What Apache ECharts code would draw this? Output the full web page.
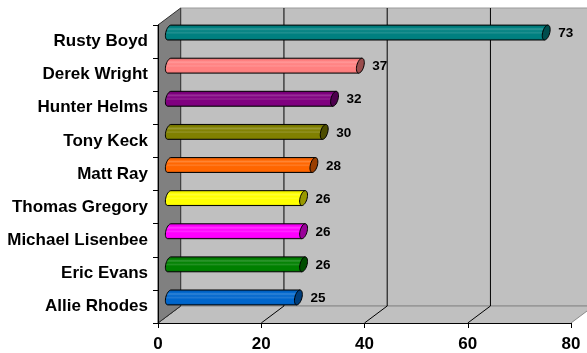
<!DOCTYPE html>
<html>
<head>
<meta charset="utf-8">
<script src="https://cdn.jsdelivr.net/npm/echarts@6/dist/echarts.min.js"></script>
<style>
  html, body { margin: 0; padding: 0; background: #ffffff; }
  #chart { width: 587px; height: 353px; }
</style>
</head>
<body>
<div id="chart"></div>
<script>
// Player totals, top to bottom
const categories = ['Rusty Boyd', 'Derek Wright', 'Hunter Helms', 'Tony Keck', 'Matt Ray',
  'Thomas Gregory', 'Michael Lisenbee', 'Eric Evans', 'Allie Rhodes'];
const values = [73, 37, 32, 30, 28, 26, 26, 26, 25];
const xTicks = [0, 20, 40, 60, 80];

// One colour per bar
const barColors = ['#008080', '#ff8080', '#800080', '#808000', '#ff6600',
  '#ffff00', '#ff00ff', '#008000', '#0066cc'];

const FONT = 'Arial, "Liberation Sans", sans-serif';
// Depth of the 3-D box (pixels): back wall is shifted right and up
const DX = 22.7, DY = -17;
const SKEW = 0.22;

function hexToRgb(h) {
  const n = parseInt(h.slice(1), 16);
  return [(n >> 16) & 255, (n >> 8) & 255, n & 255];
}
function toHex(c) {
  return '#' + c.map(v => Math.max(0, Math.min(255, Math.round(v))).toString(16).padStart(2, '0')).join('');
}
function shade(h, f) { return toHex(hexToRgb(h).map(v => v * f)); }
function tint(h, t) { return toHex(hexToRgb(h).map(v => v + (255 - v) * t)); }

// Wall, side wall and floor of the 3-D box, drawn from the grid and x scale
function renderBox(params, api) {
  const cs = params.coordSys;
  const gx = cs.x, gy = cs.y, gw = cs.width, gh = cs.height;
  const bottom = gy + gh;
  const children = [];
  // back wall
  children.push({
    type: 'rect',
    shape: { x: gx + DX, y: gy + DY, width: gw + 40, height: gh },
    style: { fill: '#c0c0c0', stroke: '#9a9a9a', lineWidth: 1 }
  });
  // floor
  children.push({
    type: 'polygon',
    shape: { points: [[gx, bottom], [gx + DX, bottom + DY], [gx + gw + DX, bottom + DY], [gx + gw, bottom]] },
    style: { fill: '#c0c0c0', stroke: null }
  });
  children.push({
    type: 'line',
    shape: { x1: gx + DX, y1: bottom + DY, x2: gx + gw + DX + 20, y2: bottom + DY },
    style: { stroke: '#858585', lineWidth: 1.2 }
  });
  // gridlines on the back wall and floor
  xTicks.forEach(function (v) {
    const x = api.coord([v, 0])[0];
    if (v !== xTicks[0] && v !== xTicks[xTicks.length - 1]) {
      children.push({
        type: 'line',
        shape: { x1: x + DX, y1: gy + DY, x2: x + DX, y2: bottom + DY },
        style: { stroke: '#000000', lineWidth: 1 }
      });
    }
    children.push({
      type: 'line',
      shape: { x1: x, y1: bottom, x2: x + DX, y2: bottom + DY },
      style: { stroke: v === xTicks[xTicks.length - 1] ? '#8a8a8a' : '#000000', lineWidth: 1 }
    });
  });
  // side wall
  children.push({
    type: 'polygon',
    shape: { points: [[gx, gy], [gx + DX, gy + DY], [gx + DX, bottom + DY], [gx, bottom]] },
    style: { fill: '#808080', stroke: '#303030', lineWidth: 1 }
  });
  return { type: 'group', children: children };
}

// Affine skew so the cylinder ends lean slightly
function sk(x, y, cy) { return [x - SKEW * (y - cy), y]; }
function ellipsePath(cx, cy, rx, ry) {
  const k = 0.5523;
  const pts = [
    [cx + rx, cy],
    [cx + rx, cy + ry * k], [cx + rx * k, cy + ry], [cx, cy + ry],
    [cx - rx * k, cy + ry], [cx - rx, cy + ry * k], [cx - rx, cy],
    [cx - rx, cy - ry * k], [cx - rx * k, cy - ry], [cx, cy - ry],
    [cx + rx * k, cy - ry], [cx + rx, cy - ry * k], [cx + rx, cy]
  ].map(p => sk(p[0], p[1], cy));
  let d = 'M' + pts[0].join(',');
  for (let i = 1; i < pts.length; i += 3) {
    d += 'C' + pts[i].join(',') + ' ' + pts[i + 1].join(',') + ' ' + pts[i + 2].join(',');
  }
  return d + 'Z';
}

function renderBar(params, api) {
  const v = api.value(0);
  const c = api.value(1);
  const p0 = api.coord([0, c]);
  const p1 = api.coord([v, c]);
  const band = api.size([0, 1])[1];
  const ry = band * 0.45 / 2;
  const rx = 3.6;
  const cy = p0[1] + DY / 2 - 0.5;
  const x0 = p0[0] + DX / 2;
  const x1 = p1[0] + DX / 2;
  const yT = cy - ry, yB = cy + ry;
  const col = barColors[c];
  const k = 0.5523;

  // body with rounded far-left end
  const a = sk(x1, yT, cy), b = sk(x0, yT, cy);
  const c1 = sk(x0 - rx * k, yT, cy), c2 = sk(x0 - rx, cy - ry * k, cy), m = sk(x0 - rx, cy, cy);
  const c3 = sk(x0 - rx, cy + ry * k, cy), c4 = sk(x0 - rx * k, yB, cy), e = sk(x0, yB, cy);
  const f = sk(x1, yB, cy);
  const body = 'M' + a.join(',') + 'L' + b.join(',') +
    'C' + c1.join(',') + ' ' + c2.join(',') + ' ' + m.join(',') +
    'C' + c3.join(',') + ' ' + c4.join(',') + ' ' + e.join(',') +
    'L' + f.join(',') + 'Z';

  const grad = new echarts.graphic.LinearGradient(0, 0, 0, 1, [
    { offset: 0, color: shade(col, 0.82) },
    { offset: 0.18, color: col },
    { offset: 0.28, color: tint(col, 0.2) },
    { offset: 0.4, color: col },
    { offset: 0.52, color: tint(col, 0.14) },
    { offset: 0.6, color: col },
    { offset: 0.85, color: col },
    { offset: 1, color: shade(col, 0.8) }
  ]);

  return {
    type: 'group',
    children: [
      {
        type: 'path',
        shape: { pathData: body },
        style: { fill: grad, stroke: '#000000', lineWidth: 1 }
      },
      {
        type: 'path',
        shape: { pathData: ellipsePath(x1, cy, rx, ry) },
        style: { fill: shade(col, 0.6), stroke: '#000000', lineWidth: 1 }
      },
      {
        type: 'text',
        style: {
          text: String(v),
          x: x1 + 12,
          y: cy + 1,
          fill: '#000000',
          font: 'bold 13.5px ' + FONT,
          align: 'left',
          verticalAlign: 'middle'
        }
      }
    ]
  };
}

const chart = echarts.init(document.getElementById('chart'));
chart.setOption({
  backgroundColor: '#ffffff',
  animation: false,
  grid: { left: 158, right: 16, top: 25, bottom: 29, containLabel: false },
  xAxis: {
    type: 'value',
    min: xTicks[0],
    max: xTicks[xTicks.length - 1],
    interval: xTicks[1] - xTicks[0],
    z: 10,
    axisLine: { show: true, lineStyle: { color: '#000000', width: 1 } },
    axisTick: { show: true, length: 5, lineStyle: { color: '#000000' } },
    splitLine: { show: false },
    axisLabel: { color: '#000000', fontFamily: FONT, fontWeight: 'bold', fontSize: 17, margin: 13 }
  },
  yAxis: {
    type: 'category',
    data: categories,
    inverse: true,
    z: 10,
    axisLine: { show: true, lineStyle: { color: '#000000', width: 1 } },
    axisTick: { show: true, length: 5, lineStyle: { color: '#000000' } },
    splitLine: { show: false },
    axisLabel: {
      color: '#000000', fontFamily: FONT, fontWeight: 'bold', fontSize: 17, margin: 10,
      padding: [0, 0, 4, 0]
    }
  },
  series: [
    {
      type: 'custom',
      z: 1,
      silent: true,
      renderItem: renderBox,
      data: [[0, 0]]
    },
    {
      type: 'custom',
      z: 3,
      renderItem: renderBar,
      encode: { x: 0, y: 1 },
      data: values.map((v, i) => [v, i])
    }
  ]
});
</script>
</body>
</html>
